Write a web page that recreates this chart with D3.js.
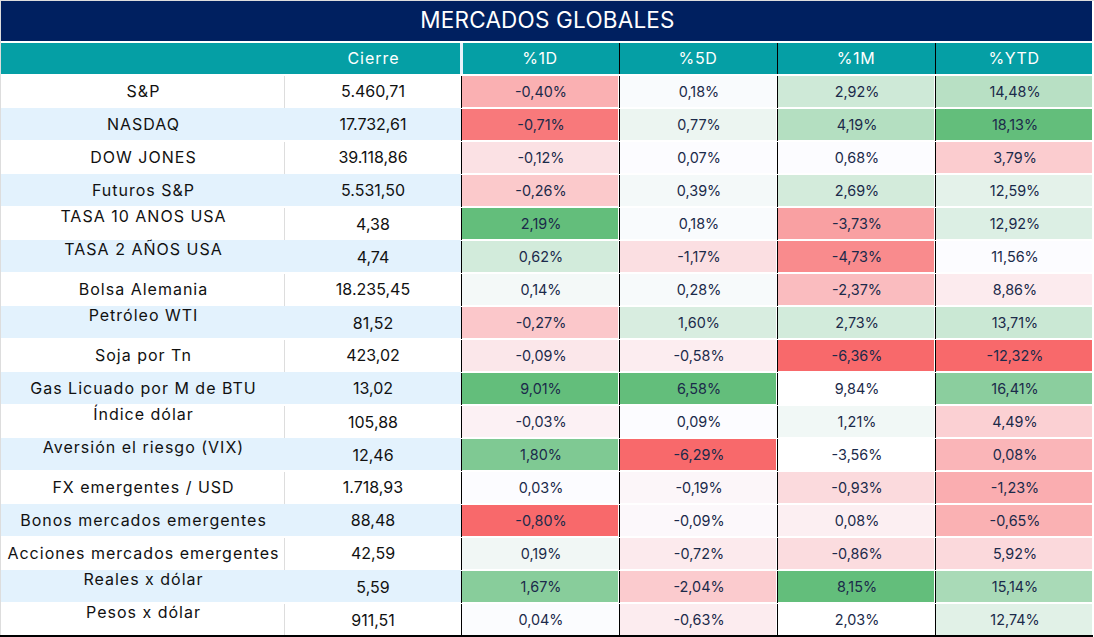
<!DOCTYPE html>
<html>
<head>
<meta charset="utf-8">
<style>
  html, body { margin: 0; padding: 0; background: #fff; }
  svg { display: block; }
  text { font-family: "Inter", sans-serif; }
</style>
<script src="https://cdn.jsdelivr.net/npm/d3@7"></script>
</head>
<body>
<script>
const title = "MERCADOS GLOBALES";
const closeHeader = "Cierre";
const pctHeaders = ["%1D", "%5D", "%1M", "%YTD"];

const labels = [
  "S&P", "NASDAQ", "DOW JONES", "Futuros S&P", "TASA 10 ANOS USA", "TASA 2 AÑOS USA",
  "Bolsa Alemania", "Petróleo WTI", "Soja por Tn", "Gas Licuado por M de BTU", "Índice dólar",
  "Aversión el riesgo (VIX)", "FX emergentes / USD", "Bonos mercados emergentes",
  "Acciones mercados emergentes", "Reales x dólar", "Pesos x dólar"
];
const closes = [5460.71, 17732.61, 39118.86, 5531.5, 4.38, 4.74, 18235.45, 81.52, 423.02, 13.02, 105.88, 12.46, 1718.93, 88.48, 42.59, 5.59, 911.51];
const pct1D = [-0.40, -0.71, -0.12, -0.26, 2.19, 0.62, 0.14, -0.27, -0.09, 9.01, -0.03, 1.80, 0.03, -0.80, 0.19, 1.67, 0.04];
const pct5D = [0.18, 0.77, 0.07, 0.39, 0.18, -1.17, 0.28, 1.60, -0.58, 6.58, 0.09, -6.29, -0.19, -0.09, -0.72, -2.04, -0.63];
const pct1M = [2.92, 4.19, 0.68, 2.69, -3.73, -4.73, -2.37, 2.73, -6.36, 9.84, 1.21, -3.56, -0.93, 0.08, -0.86, 8.15, 2.03];
const pctYTD = [14.48, 18.13, 3.79, 12.59, 12.92, 11.56, 8.86, 13.71, -12.32, 16.41, 4.49, 0.08, -1.23, -0.65, 5.92, 15.14, 12.74];

// top of the color scale in each column, some cells go past it
const heatTop = [2.19, 6.58, 8.15, 18.13];
// cells left without color in the %1M column
const noHeat1M = [9.84, -3.56, 2.03];
// labels that sit high in their row
const raisedLabels = ["TASA 10 ANOS USA", "TASA 2 AÑOS USA", "Petróleo WTI", "Índice dólar", "Aversión el riesgo (VIX)", "Reales x dólar", "Pesos x dólar"];

const pctColumns = [pct1D, pct5D, pct1M, pctYTD];

const w = 1094;
const h = 637;
const left = 1;
const right = 1092;
const labelRight = 284;
const closeRight = 461;

const locale = d3.formatLocale({ decimal: ",", thousands: ".", grouping: [3], currency: ["", ""], minus: "-" });
const fmt = locale.format(",.2f");

const yScale = d3.scaleBand().domain(labels).range([75, 636]);
const xPct = d3.scaleBand().domain(pctHeaders).range([closeRight, right + 1]);
const bh = yScale.bandwidth();
const bw = xPct.bandwidth();

const heatScales = pctColumns.map((values, i) =>
  d3.scaleLinear()
    .domain([d3.min(values), d3.median(values), heatTop[i]])
    .range(["#F8696B", "#FCFCFF", "#63BE7B"])
    .clamp(true)
);

const svg = d3.select("body").append("svg").attr("width", w).attr("height", h);

svg.append("rect").attr("width", w).attr("height", h).attr("fill", "#fff");

// thin grey edge on top and left
svg.append("rect").attr("width", w).attr("height", 1).attr("fill", "#DDDDDD");
svg.append("rect").attr("width", 1).attr("height", h).attr("fill", "#DDDDDD");

// title and header bands
svg.append("rect").attr("x", left).attr("y", 1).attr("width", right - left).attr("height", 40).attr("fill", "#002060");
svg.append("text")
  .attr("x", (left + right) / 2 + 1).attr("y", 20).attr("dy", "0.36em")
  .attr("text-anchor", "middle").attr("fill", "#fff")
  .style("font-size", "22.5px").style("letter-spacing", "0.2px")
  .text(title);

svg.append("rect").attr("x", left).attr("y", 43).attr("width", right - left).attr("height", 31).attr("fill", "#059FA5");
svg.append("text")
  .attr("x", (labelRight + closeRight) / 2 + 1).attr("y", 58).attr("dy", "0.36em")
  .attr("text-anchor", "middle").attr("fill", "#fff")
  .style("font-size", "16px").style("letter-spacing", "1px")
  .text(closeHeader);

svg.selectAll(".pct-head")
  .data(pctHeaders)
  .enter()
  .append("text")
  .attr("class", "pct-head")
  .attr("x", (d) => xPct(d) + bw / 2)
  .attr("y", 58).attr("dy", "0.36em")
  .attr("text-anchor", "middle").attr("fill", "#fff")
  .style("font-size", "16px").style("letter-spacing", "0.6px")
  .text((d) => d);

// pale gap left of %1D, black dividers for the rest
svg.append("rect").attr("x", closeRight - 1).attr("y", 43).attr("width", 3).attr("height", 31).attr("fill", "#E8F1FA");
svg.selectAll(".head-div")
  .data(pctHeaders.slice(1))
  .enter()
  .append("rect")
  .attr("class", "head-div")
  .attr("x", (d) => xPct(d))
  .attr("y", 43).attr("width", 1).attr("height", 31).attr("fill", "#000");

// one group per row
const rows = svg.selectAll(".row")
  .data(labels)
  .enter()
  .append("g")
  .attr("class", "row")
  .attr("transform", (d) => "translate(0," + yScale(d) + ")");

rows.filter((d, i) => i % 2 == 1)
  .append("rect")
  .attr("x", left).attr("y", 0).attr("width", closeRight - left).attr("height", bh - 1)
  .attr("fill", "#E3F2FD");

rows.filter((d, i) => i % 2 == 0)
  .append("rect")
  .attr("x", labelRight).attr("y", 1).attr("width", 1).attr("height", bh - 1)
  .attr("fill", "#DDDDDD");

rows.append("text")
  .attr("x", labelRight / 2 + 1.5)
  .attr("y", (d) => bh / 2 + (raisedLabels.includes(d) ? -7 : 0))
  .attr("dy", "0.36em")
  .attr("text-anchor", "middle").attr("fill", "#111")
  .style("font-size", "16px").style("letter-spacing", "1px")
  .text((d) => d);

rows.append("text")
  .attr("x", (labelRight + closeRight) / 2 + 0.5)
  .attr("y", (d) => bh / 2 + (raisedLabels.includes(d) ? 1 : 0))
  .attr("dy", "0.36em")
  .attr("text-anchor", "middle").attr("fill", "#111")
  .style("font-size", "16px")
  .text((d, i) => fmt(closes[i]));

pctHeaders.forEach((col, c) => {
  const values = pctColumns[c];
  const cells = rows.append("g").attr("transform", "translate(" + xPct(col) + ",0)");

  cells.append("rect")
    .attr("x", 1).attr("y", 1).attr("width", bw - 2).attr("height", bh - 2)
    .attr("fill", (d, i) =>
      c == 2 && noHeat1M.includes(values[i]) ? "#fff" : heatScales[c](values[i])
    );

  cells.append("rect")
    .attr("x", 0).attr("y", 1).attr("width", 1).attr("height", bh - 1)
    .attr("fill", "#000");

  cells.append("text")
    .attr("x", bw / 2 + 1)
    .attr("y", bh / 2).attr("dy", "0.36em")
    .attr("text-anchor", "middle").attr("fill", "#1B2A4A")
    .style("font-size", "14.4px")
    .text((d, i) => fmt(values[i]) + "%");
});

// bottom rule
svg.append("rect").attr("x", 0).attr("y", 635).attr("width", right + 1).attr("height", 2).attr("fill", "#000");
</script>
</body>
</html>
